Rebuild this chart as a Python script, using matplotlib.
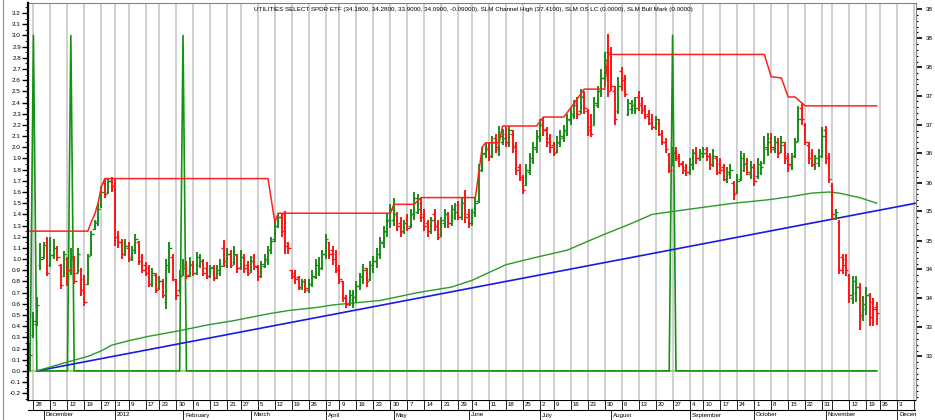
import numpy as np
import pandas as pd
import matplotlib
matplotlib.use("Agg")
import matplotlib.pyplot as plt
from matplotlib.ticker import MultipleLocator, FormatStrFormatter

plt.rcParams['font.family'] = ['Liberation Sans', 'DejaVu Sans']

title = ("UTILITIES SELECT SPDR ETF (34.1800, 34.2800, 33.9000, 34.0900, -0.09000), "
         "SLM Channel High (37.4100), SLM OS LC (0.0000), SLM Bull Mark (0.0000)")

# NYSE closed days in the range (Hurricane Sandy incl.)
holidays = ["2011-12-26", "2012-01-02", "2012-01-16", "2012-02-20", "2012-04-06",
            "2012-05-28", "2012-07-04", "2012-09-03", "2012-10-29", "2012-10-30",
            "2012-11-22"]
first_day = "2011-11-25"
last_day = "2012-12-10"

# OHLC read on the left scale, one value per trading day
bar_open = [0.05, 0.32, 0.42, 0.95, 1.02, 1.15, 0.95, 1.04, 1.10, 0.95,
            0.85, 1.00, 0.90, 1.00, 0.88, 0.90, 0.82, 0.78, 1.05, 1.27,
            1.34, 1.48, 1.68, 1.60, 1.70, 1.65, 1.20, 1.15, 1.05, 1.10,
            1.02, 1.08, 1.15, 1.02, 0.95, 0.92, 0.78, 0.86, 0.74, 0.80,
            0.62, 0.92, 1.02, 0.80, 0.72, 0.86, 0.95, 0.86, 0.96, 0.88,
            0.95, 0.98, 0.92, 0.85, 0.93, 0.84, 0.88, 1.10, 0.95, 1.05,
            0.97, 1.04, 0.92, 1.02, 0.95, 0.90, 1.02, 0.93, 0.85, 0.94,
            0.98, 1.08, 1.18, 1.30, 1.38, 1.40, 1.14, 0.90, 0.88, 0.84,
            0.74, 0.80, 0.72, 0.78, 0.84, 0.88, 0.92, 1.05, 1.15, 1.08,
            1.05, 0.92, 0.80, 0.66, 0.60, 0.64, 0.66, 0.76, 0.84, 0.92,
            0.82, 0.92, 0.98, 1.05, 1.14, 1.24, 1.34, 1.35, 1.40, 1.32,
            1.24, 1.36, 1.30, 1.40, 1.42, 1.50, 1.40, 1.32, 1.25, 1.40,
            1.30, 1.22, 1.32, 1.40, 1.32, 1.38, 1.48, 1.38, 1.55, 1.40,
            1.32, 1.42, 1.52, 1.80, 1.94, 2.00, 1.92, 2.08, 1.98, 2.05,
            2.12, 2.04, 2.12, 2.02, 1.82, 1.72, 1.66, 1.78, 1.88, 1.98,
            2.08, 2.22, 2.16, 2.08, 2.02, 1.96, 2.04, 2.08, 2.14, 2.24,
            2.28, 2.40, 2.32, 2.46, 2.32, 2.18, 2.20, 2.38, 2.50, 2.62,
            2.85, 2.85, 2.50, 2.32, 2.68, 2.62, 2.30, 2.34, 2.33, 2.45,
            2.40, 2.35, 2.30, 2.25, 2.18, 2.22, 2.12, 2.05, 1.93, 1.84,
            1.96, 1.92, 1.86, 1.82, 1.78, 1.84, 1.96, 1.90, 1.92, 1.98,
            1.92, 1.84, 1.90, 1.85, 1.82, 1.70, 1.76, 1.68, 1.60, 1.72,
            1.80, 1.86, 1.76, 1.82, 1.74, 1.78, 1.86, 1.98, 2.08, 1.98,
            2.05, 1.96, 2.02, 1.92, 1.84, 1.92, 2.06, 2.35, 2.20, 2.02,
            1.95, 1.84, 1.86, 1.92, 2.15, 1.92, 1.65, 1.37, 1.33, 1.02,
            1.00, 0.85, 0.65, 0.70, 0.75, 0.48, 0.55, 0.68, 0.62, 0.57]
bar_high = [0.25, 0.53, 0.66, 1.14, 1.15, 1.20, 1.20, 1.18, 1.12, 0.96,
            1.07, 1.02, 1.10, 1.03, 1.10, 0.92, 0.86, 1.05, 1.25, 1.35,
            1.50, 1.65, 1.72, 1.72, 1.73, 1.72, 1.25, 1.18, 1.18, 1.15,
            1.12, 1.22, 1.16, 1.05, 0.97, 0.95, 0.92, 0.88, 0.85, 0.82,
            1.00, 1.15, 1.05, 0.82, 0.90, 1.00, 0.98, 1.02, 0.98, 1.06,
            1.05, 1.00, 0.97, 0.95, 0.95, 0.95, 1.00, 1.17, 1.10, 1.08,
            1.12, 1.05, 1.08, 1.05, 0.98, 1.03, 1.05, 0.95, 0.98, 1.05,
            1.12, 1.20, 1.35, 1.41, 1.40, 1.43, 1.15, 0.90, 0.90, 0.85,
            0.82, 0.82, 0.82, 0.90, 1.00, 1.02, 1.08, 1.22, 1.15, 1.12,
            1.08, 0.95, 0.80, 0.68, 0.72, 0.72, 0.80, 0.88, 0.96, 0.92,
            0.98, 1.03, 1.10, 1.20, 1.30, 1.40, 1.49, 1.55, 1.42, 1.38,
            1.35, 1.40, 1.45, 1.60, 1.58, 1.55, 1.45, 1.35, 1.38, 1.45,
            1.35, 1.38, 1.45, 1.42, 1.48, 1.50, 1.52, 1.55, 1.62, 1.45,
            1.45, 1.55, 1.85, 2.00, 2.04, 2.04, 2.10, 2.12, 2.19, 2.16,
            2.18, 2.19, 2.15, 2.05, 1.85, 1.75, 1.85, 1.95, 2.05, 2.15,
            2.25, 2.27, 2.18, 2.12, 2.05, 2.10, 2.15, 2.20, 2.30, 2.35,
            2.42, 2.45, 2.52, 2.50, 2.34, 2.30, 2.45, 2.55, 2.70, 2.85,
            3.01, 2.90, 2.55, 2.63, 2.72, 2.65, 2.43, 2.42, 2.45, 2.50,
            2.45, 2.38, 2.33, 2.30, 2.28, 2.25, 2.15, 2.08, 1.95, 2.00,
            2.00, 1.94, 1.88, 1.85, 1.90, 1.98, 2.00, 1.98, 2.00, 2.00,
            1.95, 1.98, 1.92, 1.90, 1.85, 1.82, 1.85, 1.70, 1.76, 1.97,
            1.95, 1.90, 1.88, 1.85, 1.90, 1.88, 2.10, 2.13, 2.13, 2.10,
            2.08, 2.10, 2.05, 1.95, 1.95, 2.08, 2.37, 2.40, 2.22, 2.05,
            1.98, 1.93, 1.98, 2.18, 2.19, 1.95, 1.68, 1.45, 1.35, 1.05,
            1.05, 0.87, 0.85, 0.85, 0.79, 0.67, 0.75, 0.70, 0.65, 0.62]
bar_low = [0.00, 0.29, 0.40, 0.90, 1.00, 0.85, 0.93, 1.00, 0.98, 0.73,
           0.84, 0.76, 0.86, 0.78, 0.88, 0.67, 0.58, 0.77, 1.03, 1.26,
           1.30, 1.46, 1.55, 1.58, 1.60, 1.12, 1.10, 1.00, 1.03, 0.97,
           0.98, 1.05, 0.95, 0.88, 0.85, 0.75, 0.75, 0.70, 0.72, 0.65,
           0.55, 0.88, 0.80, 0.63, 0.70, 0.85, 0.82, 0.84, 0.85, 0.86,
           0.92, 0.85, 0.82, 0.83, 0.80, 0.82, 0.85, 0.93, 0.92, 0.92,
           0.95, 0.88, 0.90, 0.88, 0.85, 0.88, 0.90, 0.80, 0.83, 0.92,
           0.95, 1.05, 1.15, 1.28, 1.20, 1.05, 1.05, 0.82, 0.78, 0.72,
           0.72, 0.70, 0.70, 0.75, 0.82, 0.85, 0.90, 1.00, 1.00, 0.95,
           0.88, 0.78, 0.62, 0.56, 0.58, 0.56, 0.62, 0.72, 0.78, 0.75,
           0.80, 0.88, 0.92, 1.00, 1.10, 1.20, 1.28, 1.30, 1.25, 1.20,
           1.22, 1.25, 1.28, 1.35, 1.40, 1.33, 1.25, 1.20, 1.22, 1.25,
           1.17, 1.20, 1.28, 1.28, 1.30, 1.35, 1.35, 1.35, 1.32, 1.28,
           1.30, 1.38, 1.50, 1.78, 1.90, 1.88, 1.90, 1.95, 1.92, 2.02,
           2.00, 2.00, 1.95, 1.75, 1.70, 1.58, 1.65, 1.75, 1.85, 1.95,
           2.05, 2.10, 2.00, 1.95, 1.92, 1.95, 2.00, 2.05, 2.10, 2.20,
           2.25, 2.25, 2.30, 2.30, 2.10, 2.09, 2.20, 2.35, 2.45, 2.55,
           2.45, 2.50, 2.20, 2.30, 2.50, 2.45, 2.28, 2.30, 2.30, 2.32,
           2.30, 2.25, 2.20, 2.15, 2.15, 2.10, 2.02, 1.95, 1.77, 1.83,
           1.88, 1.82, 1.76, 1.74, 1.75, 1.80, 1.85, 1.88, 1.90, 1.88,
           1.80, 1.82, 1.75, 1.76, 1.70, 1.68, 1.72, 1.53, 1.58, 1.70,
           1.78, 1.75, 1.72, 1.65, 1.72, 1.75, 1.85, 1.92, 1.95, 1.95,
           1.90, 1.95, 1.85, 1.78, 1.80, 1.90, 2.05, 2.20, 2.02, 1.85,
           1.82, 1.80, 1.82, 1.90, 1.85, 1.68, 1.35, 1.35, 0.87, 0.87,
           0.85, 0.61, 0.60, 0.62, 0.37, 0.45, 0.50, 0.40, 0.40, 0.41]
bar_close = [0.14, 0.45, 0.59, 1.00, 1.13, 0.88, 1.04, 1.10, 1.02, 0.77,
             1.05, 0.90, 1.02, 0.80, 1.05, 0.72, 0.62, 1.03, 1.22, 1.32,
             1.45, 1.60, 1.58, 1.70, 1.65, 1.20, 1.15, 1.05, 1.12, 1.00,
             1.08, 1.18, 0.98, 0.90, 0.88, 0.78, 0.88, 0.72, 0.80, 0.68,
             0.95, 1.10, 0.82, 0.68, 0.85, 0.92, 0.85, 0.95, 0.88, 1.02,
             0.98, 0.88, 0.85, 0.92, 0.83, 0.90, 0.94, 0.98, 1.05, 0.95,
             1.05, 0.92, 1.02, 0.92, 0.88, 0.98, 0.94, 0.85, 0.96, 1.00,
             1.08, 1.16, 1.30, 1.38, 1.25, 1.12, 1.10, 0.85, 0.82, 0.75,
             0.80, 0.74, 0.78, 0.85, 0.95, 0.92, 1.05, 1.18, 1.05, 1.00,
             0.90, 0.82, 0.65, 0.60, 0.68, 0.66, 0.76, 0.85, 0.90, 0.80,
             0.95, 0.98, 1.05, 1.15, 1.25, 1.35, 1.45, 1.40, 1.30, 1.25,
             1.32, 1.28, 1.40, 1.55, 1.45, 1.38, 1.30, 1.25, 1.35, 1.30,
             1.20, 1.35, 1.40, 1.32, 1.45, 1.42, 1.38, 1.50, 1.38, 1.32,
             1.42, 1.50, 1.80, 1.95, 1.98, 1.92, 2.05, 2.00, 2.10, 2.08,
             2.05, 2.15, 2.00, 1.80, 1.73, 1.62, 1.80, 1.90, 2.00, 2.10,
             2.20, 2.15, 2.05, 2.00, 1.95, 2.05, 2.10, 2.15, 2.25, 2.30,
             2.38, 2.30, 2.45, 2.35, 2.15, 2.12, 2.40, 2.50, 2.62, 2.78,
             2.50, 2.55, 2.25, 2.55, 2.60, 2.48, 2.40, 2.38, 2.35, 2.38,
             2.33, 2.28, 2.22, 2.18, 2.25, 2.12, 2.05, 1.98, 1.80, 1.95,
             1.90, 1.85, 1.80, 1.78, 1.85, 1.95, 1.90, 1.95, 1.95, 1.92,
             1.85, 1.92, 1.78, 1.80, 1.72, 1.78, 1.80, 1.58, 1.70, 1.90,
             1.85, 1.78, 1.82, 1.70, 1.85, 1.82, 2.00, 2.05, 2.00, 2.05,
             1.95, 2.05, 1.90, 1.85, 1.92, 2.05, 2.25, 2.25, 2.05, 1.90,
             1.85, 1.90, 1.92, 2.10, 1.90, 1.72, 1.40, 1.42, 0.90, 0.95,
             0.90, 0.68, 0.80, 0.75, 0.50, 0.60, 0.68, 0.48, 0.55, 0.52]

# SLM Channel High, vertices (day index, level)
chan_x = [0, 17, 18, 19, 20, 21, 22, 70, 72, 73, 106, 107, 113, 115, 131, 133, 134,
          138, 139, 149, 151, 157, 159, 163, 169, 170, 216, 218, 221, 223, 225, 228, 249]
chan_y = [1.25, 1.25, 1.33, 1.40, 1.50, 1.65, 1.72, 1.72, 1.33, 1.41, 1.41, 1.49, 1.49,
          1.55, 1.55, 2.00, 2.04, 2.04, 2.19, 2.19, 2.27, 2.27, 2.35, 2.52, 2.52, 2.83,
          2.83, 2.63, 2.62, 2.45, 2.45, 2.37, 2.37]

# long moving average (green), vertices
ma_x = [2, 11, 17, 21, 24, 29, 35, 44, 52, 60, 70, 76, 85, 89, 103, 114, 124, 130,
        140, 148, 158, 168, 177, 183, 190, 207, 217, 224, 230, 235, 238, 244, 249]
ma_y = [0.00, 0.08, 0.13, 0.18, 0.23, 0.27, 0.31, 0.36, 0.41, 0.45, 0.51, 0.54, 0.57,
        0.59, 0.63, 0.70, 0.75, 0.81, 0.95, 1.01, 1.08, 1.21, 1.32, 1.40, 1.43, 1.50,
        1.53, 1.56, 1.59, 1.60, 1.59, 1.55, 1.50]

# blue trend line end points
trend_x = [2, 260.6]
trend_y = [0.0, 1.5]

# SLM Bull Mark: 3.0 on these days, else 0
bull_days = [1, 12, 45, 189]
bull_level = 3.0

# price (right scale) = price0 + price_per_unit * left value
price0 = 33.16
price_per_unit = 1.795
# right labels, only their first two characters fit inside the picture
right_ticks = [38.97, 38.50, 38.04, 37.58, 37.11, 36.65, 36.18,
               35.72, 35.25, 34.79, 34.33, 33.86, 33.40]
right_labels = ["38", "38", "38", "37", "37", "36", "36",
                "35", "35", "34", "34", "33", "33"]

# ---------------------------------------------------------------
days = pd.bdate_range(first_day, last_day)
days = days[~days.isin(pd.to_datetime(holidays))]
n = len(bar_close)
x = np.arange(n)

fig = plt.figure(figsize=(9.35, 4.2), dpi=100)
ax = fig.add_axes([28 / 935, 20 / 420, 888 / 935, 397 / 420])
xmin, xmax = -0.6, 260.6
ymin, ymax = -0.26, 3.29
ax.set_xlim(xmin, xmax)
ax.set_ylim(ymin, ymax)

# weekly grid
week_start = [i for i in range(len(days)) if i == 0 or days[i].weekday() < days[i - 1].weekday()]
for i in week_start:
    if i > 0:
        ax.axvline(i, color='#c4c4c4', lw=1.1, zorder=0)

# bull mark + zero line
bull = np.zeros(n)
bull[bull_days] = bull_level
ax.plot(x, np.zeros(n), color='#8fd24a', lw=1.2, zorder=1)
ax.plot(x, bull, color='#129412', lw=1.2, zorder=2)

ax.plot(trend_x, trend_y, color='#1a1ae6', lw=1.2, zorder=3)
ax.plot(ma_x, ma_y, color='#2a9a2a', lw=1.0, zorder=3)

o = np.array(bar_open)
h = np.array(bar_high)
lo = np.array(bar_low)
c = np.array(bar_close)
cols = np.where(c >= o, '#1a8c1a', '#ff1414')
ax.vlines(x, lo, h, colors=cols, lw=1.4, zorder=4)
ax.hlines(o, x - 0.7, x, colors=cols, lw=1.0, zorder=4)
ax.hlines(c, x, x + 0.7, colors=cols, lw=1.0, zorder=4)

ax.plot(chan_x, chan_y, color='#ff2020', lw=1.1, zorder=5)

# left axis
ax.yaxis.set_major_locator(MultipleLocator(0.1))
ax.yaxis.set_minor_locator(MultipleLocator(0.05))
ax.yaxis.set_major_formatter(FormatStrFormatter('%.1f'))
ax.tick_params(axis='y', which='major', length=4, width=1, labelsize=4.6, pad=1)
ax.tick_params(axis='y', which='minor', length=2, width=0.6)
ax.set_xticks([])
for s in ['top', 'right', 'bottom']:
    ax.spines[s].set_visible(False)
ax.spines['left'].set_linewidth(1.6)
ax.axhline(ymax, color='#808080', lw=0.8)

# right axis (price)
ax2 = ax.twinx()
ax2.set_ylim(price0 + price_per_unit * ymin, price0 + price_per_unit * ymax)
ax2.set_yticks(right_ticks)
ax2.set_yticklabels(right_labels)
step = right_ticks[0] - right_ticks[1]
minors = [t - step * k / 5 for t in right_ticks for k in range(1, 5)] + \
         [right_ticks[-1] - step * k / 5 for k in range(5, 8)]
ax2.set_yticks(minors, minor=True)
ax2.tick_params(axis='y', which='major', length=4, width=1.2, labelsize=4.6, pad=3)
ax2.tick_params(axis='y', which='minor', length=1.5, width=0.8)
for s in ['top', 'left', 'bottom']:
    ax2.spines[s].set_visible(False)
ax2.spines['right'].set_color('#808080')

# date rows
axd = fig.add_axes([28 / 935, 0, 888 / 935, 20 / 420])
axd.set_xlim(xmin, xmax)
axd.set_ylim(0, 2)
axd.axis('off')
axd.axhline(2, color='black', lw=0.8)
axd.axhline(1, color='black', lw=0.8)
for i in week_start:
    if i == 0:
        continue
    axd.plot([i, i], [1, 2], color='black', lw=0.6)
    d = days[i]
    if d.month == 11 and d.day == 5:
        continue
    axd.text(i + 0.6, 1.5, str(d.day), fontsize=4.4, va='center', ha='left', clip_on=True)
month_start = [i for i in range(1, len(days)) if days[i].month != days[i - 1].month]
for i in month_start:
    d = days[i]
    axd.plot([i, i], [0, 1], color='black', lw=0.6)
    name = str(d.year) if d.month == 1 else d.strftime('%B')
    axd.text(i + 0.6, 0.5, name, fontsize=4.4, va='center', ha='left', clip_on=True)
axd.plot([xmax, xmax], [0, 2], color='black', lw=0.8)

fig.add_artist(plt.Line2D([2.5 / 935, 2.5 / 935], [0, 1], color='#909090', lw=0.8))
fig.text(473.5 / 935, 1 - 9 / 420, title, ha='center', va='center', fontsize=4.5)

fig.savefig('out.png', dpi=100)
